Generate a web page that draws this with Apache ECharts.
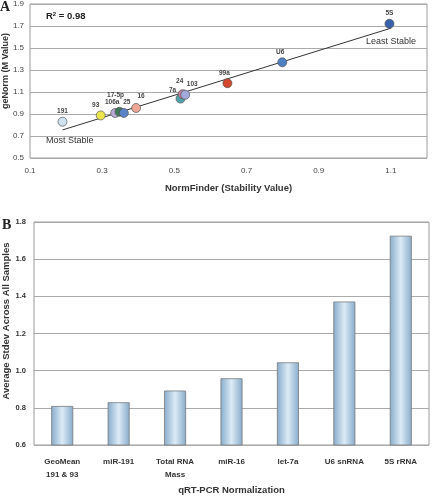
<!DOCTYPE html>
<html><head><meta charset="utf-8">
<script src="https://cdn.jsdelivr.net/npm/echarts@6/dist/echarts.min.js"></script>
<style>html,body{margin:0;padding:0;background:#fff}#c{width:432px;height:496px}</style>
</head><body><div id="c"></div>
<script>
// Panel A data
const geneNames = ['191','93','106a','17-5p','25','16','7a','24','103','99a','U6','5S'];
const normFinder = [0.19,0.296,0.336,0.348,0.36,0.394,0.517,0.523,0.53,0.647,0.799,1.096];
const geNorm = [0.83,0.887,0.909,0.92,0.91,0.955,1.04,1.08,1.075,1.18,1.37,1.72];
const trendX = [0.19,1.1];
const trendY = [0.755,1.68];
const xTicksA = [0.1,0.3,0.5,0.7,0.9,1.1];
// Panel B data
const normCategories = ['GeoMean\n191 & 93','miR-191','Total RNA\nMass','miR-16','let-7a','U6 snRNA','5S rRNA'];
const stdevValues = [0.81,0.83,0.893,0.959,1.045,1.372,1.726];

// styles
const pointColors = ['#cfe2f0','#ece44c','#b7a8d4','#3d7a55','#5a84c6','#eea696','#4ea2aa','#c47c9c','#a3aadb','#d2482c','#4d80c2','#3862ab'];
const labelOffsets = {'191':[0,0],'93':[-5,0],'106a':[-3,0],'17-5p':[-4,-6],'25':[3,0],'16':[5,-1],'7a':[-8,2],'24':[-3,-3],'103':[7,0],'99a':[-3,0],'U6':[-2,0],'5S':[0,0]};

const chart = echarts.init(document.getElementById('c'), null, {renderer:'canvas'});
const ff = 'Liberation Sans, Arial, sans-serif';
const scatterData = geneNames.map((n,i)=>({
  name:n, value:[normFinder[i],geNorm[i]],
  itemStyle:{color:pointColors[i]},
  label:{offset:labelOffsets[n]}
}));
const barGrad = new echarts.graphic.LinearGradient(0,0,1,0,[
  {offset:0,color:'#86abcb'},{offset:0.5,color:'#dcebf6'},{offset:1,color:'#86abcb'}]);

chart.setOption({
  animation:false,
  textStyle:{fontFamily:ff},
  grid:[
    {left:30,right:5,top:4,height:154,show:true,borderColor:'#9a9a9a',borderWidth:1,backgroundColor:'#fff'},
    {left:34,right:3,top:222,height:224,show:true,borderColor:'#9a9a9a',borderWidth:1,backgroundColor:'#fff'}
  ],
  xAxis:[
    {type:'value',gridIndex:0,min:0.1,max:1.2,interval:0.2,
     name:'NormFinder (Stability Value)',nameLocation:'middle',nameGap:25,
     nameTextStyle:{fontWeight:'bold',fontSize:9.5,color:'#333'},
     axisLine:{show:false},axisTick:{show:false},splitLine:{show:false},
     axisLabel:{fontSize:8,color:'#444',margin:9,formatter:v=>xTicksA.some(t=>Math.abs(t-v)<1e-6)?v.toFixed(1):''}},
    {type:'category',gridIndex:1,data:normCategories,
     name:'qRT-PCR Normalization',nameLocation:'middle',nameGap:40,
     nameTextStyle:{fontWeight:'bold',fontSize:9.5,color:'#333'},
     axisLine:{show:false},axisTick:{show:false},
     axisLabel:{fontSize:8,fontWeight:'bold',color:'#333',margin:10,lineHeight:13,interval:0}}
  ],
  yAxis:[
    {type:'value',gridIndex:0,min:0.5,max:1.9,interval:0.2,
     axisLine:{show:false},axisTick:{show:false},
     splitLine:{lineStyle:{color:'#aaaaaa',width:1}},
     axisLabel:{fontSize:8,color:'#444',margin:6,formatter:v=>v.toFixed(1)}},
    {type:'value',gridIndex:1,min:0.6,max:1.8,interval:0.2,
     axisLine:{show:false},axisTick:{show:false},
     splitLine:{lineStyle:{color:'#aaaaaa',width:1}},
     axisLabel:{fontSize:7.5,fontWeight:'bold',color:'#333',margin:8,formatter:v=>v.toFixed(1)}}
  ],
  series:[
    {type:'line',xAxisIndex:0,yAxisIndex:0,data:trendX.map((x,i)=>[x,trendY[i]]),
     showSymbol:false,symbol:'none',lineStyle:{color:'#333',width:1},z:1},
    {type:'scatter',xAxisIndex:0,yAxisIndex:0,data:scatterData,symbolSize:9,
     itemStyle:{borderColor:'#555',borderWidth:0.7,opacity:1},z:3,
     label:{show:true,position:'top',distance:2,formatter:p=>p.name,fontSize:6.5,color:'#444',fontWeight:'bold'}},
    {type:'bar',xAxisIndex:1,yAxisIndex:1,data:stdevValues,barWidth:22,
     itemStyle:{color:barGrad,borderColor:'#7a7a7a',borderWidth:0.8}}
  ],
  graphic:[
    {type:'text',left:0,top:0,style:{text:'A',font:'bold 14px "Liberation Serif", serif',fill:'#222'}},
    {type:'text',left:2,top:218,style:{text:'B',font:'bold 14px "Liberation Serif", serif',fill:'#222'}},
    {type:'text',x:6,y:71,rotation:Math.PI/2,style:{text:'geNorm (M Value)',font:'bold 9px '+ff,fill:'#333',align:'center',verticalAlign:'middle'}},
    {type:'text',x:6,y:321,rotation:Math.PI/2,style:{text:'Average Stdev Across All Samples',font:'bold 9.5px '+ff,fill:'#333',align:'center',verticalAlign:'middle'}},
    {type:'text',left:46,top:11,style:{text:'R{s|2} = 0.98',font:'bold 9.5px '+ff,fill:'#222',
      rich:{s:{fontSize:6,fontWeight:'bold',verticalAlign:'top',padding:[0,0,5,0]}}}},
    {type:'text',left:366,top:37,style:{text:'Least Stable',font:'9px '+ff,fill:'#333'}},
    {type:'text',left:46,top:136,style:{text:'Most Stable',font:'9px '+ff,fill:'#333'}}
  ]
});
</script></body></html>
